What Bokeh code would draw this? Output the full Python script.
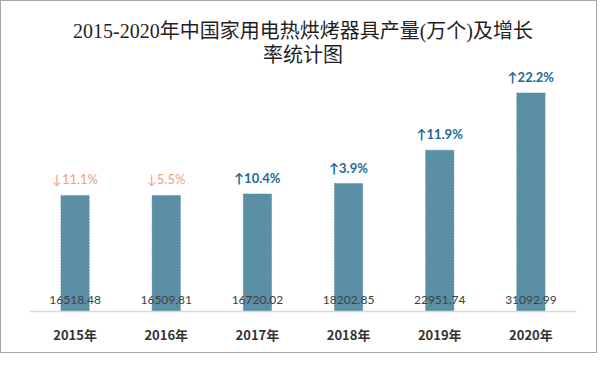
from bokeh.plotting import figure
from bokeh.models import ColumnDataSource, FactorRange, LabelSet, Range1d, Title
from bokeh.core.properties import value
from bokeh.embed import file_html
from bokeh.resources import INLINE

years = ["2015年", "2016年", "2017年", "2018年", "2019年", "2020年"]
output = [16518.48, 16509.81, 16720.02, 18202.85, 22951.74, 31092.99]
growth = [-11.1, -5.5, 10.4, 3.9, 11.9, 22.2]
y_max = 35000

title_lines = ["2015-2020年中国家用电热烘烤器具产量(万个)及增长", "率统计图"]

value_text = ["%.2f" % v for v in output]
growth_text = [("↓" if g < 0 else "↑") + "%.1f%%" % abs(g) for g in growth]

src_all = ColumnDataSource(dict(year=years, value=output, vtext=value_text))
down_idx = [i for i, g in enumerate(growth) if g < 0]
up_idx = [i for i, g in enumerate(growth) if g >= 0]
src_down = ColumnDataSource(dict(year=[years[i] for i in down_idx],
                                 value=[output[i] for i in down_idx],
                                 gtext=[growth_text[i] for i in down_idx]))
src_up = ColumnDataSource(dict(year=[years[i] for i in up_idx],
                               value=[output[i] for i in up_idx],
                               gtext=[growth_text[i] for i in up_idx]))

p = figure(width=597, height=353, output_backend="svg", toolbar_location=None,
           x_range=FactorRange(factors=years, range_padding=0),
           y_range=Range1d(0, y_max),
           min_border_left=28, min_border_right=22, min_border_top=64, min_border_bottom=43)
p.styles = {"border": "1px solid #a6a6a6"}
p.outline_line_color = None
p.background_fill_color = "white"
p.border_fill_color = "white"
p.xgrid.grid_line_color = None
p.ygrid.grid_line_color = None
p.yaxis.visible = False

p.vbar(x="year", top="value", width=0.31, source=src_all,
       fill_color="#5B8FA6", line_color="#4f829a", line_dash="2 1", line_width=0.6)

p.xaxis.axis_line_color = "#d9d9d9"
p.xaxis.axis_line_width = 1.5
p.xaxis.major_tick_line_color = None
p.xaxis.minor_tick_line_color = None
p.xaxis.major_label_text_font = "Noto Sans CJK SC"
p.xaxis.major_label_text_font_style = "bold"
p.xaxis.major_label_text_font_size = "13px"
p.xaxis.major_label_text_color = "#333333"
p.xaxis.major_label_standoff = 7

vals = LabelSet(x="year", y=0, text="vtext", source=src_all, y_offset=12,
                text_align="center", text_baseline="middle",
                text_font=value("Lato"), text_font_size=value("12px"), text_color="#404040")
p.add_layout(vals)

gd = LabelSet(x="year", y="value", text="gtext", source=src_down, y_offset=16,
              text_align="center", text_baseline="middle",
              text_font=value("Lato, Noto Sans CJK SC"), text_font_size=value("13px"),
              text_color="#F0A080")
gu = LabelSet(x="year", y="value", text="gtext", source=src_up, y_offset=16,
              text_align="center", text_baseline="middle",
              text_font=value("Lato, Noto Sans CJK SC"), text_font_size=value("13px"),
              text_font_style="bold", text_color="#1B6B96")
p.add_layout(gd)
p.add_layout(gu)

for line in reversed(title_lines):
    p.add_layout(Title(text=line, align="center", text_font="Liberation Serif, Noto Sans CJK SC",
                       text_font_style="normal", text_font_size="20px",
                       text_color="#1f1f1f", standoff=0), "above")

open("out.html", "w").write(file_html(p, INLINE))
